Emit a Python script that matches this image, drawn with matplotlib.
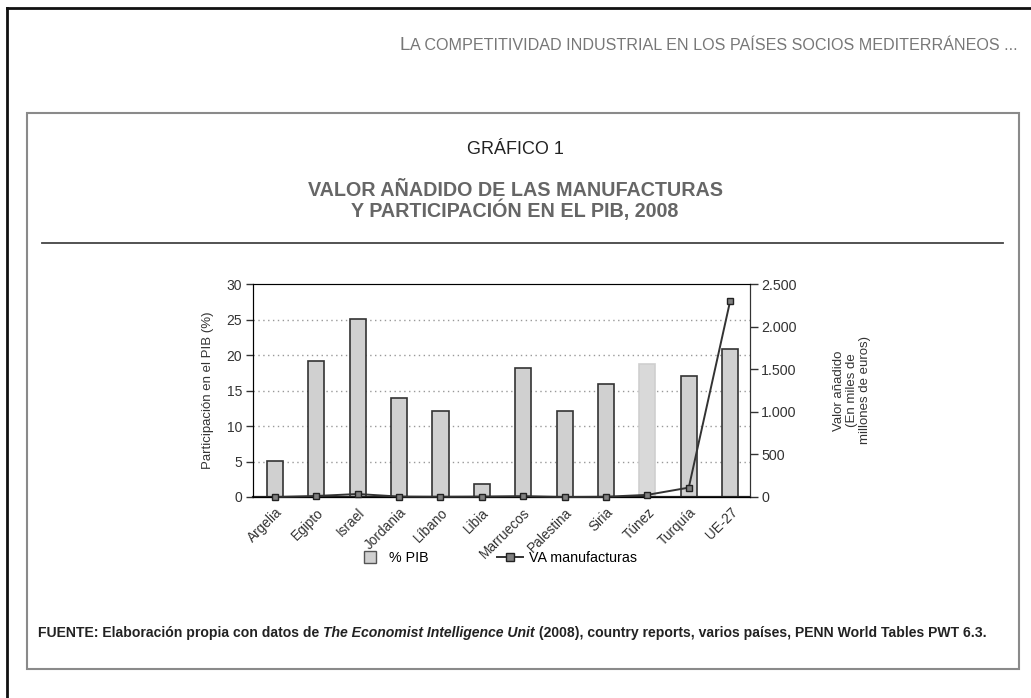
import matplotlib
matplotlib.use('Agg')
import matplotlib.pyplot as plt
from matplotlib.lines import Line2D
import numpy as np

plt.rcParams['font.family'] = ['Liberation Sans', 'DejaVu Sans']

# datos
paises = ['Argelia', 'Egipto', 'Israel', 'Jordania', 'Líbano', 'Libia', 'Marruecos',
          'Palestina', 'Siria', 'Túnez', 'Turquía', 'UE-27']
pib = [5.1, 19.2, 25.1, 14.0, 12.1, 1.9, 18.2, 12.1, 15.9, 18.8, 17.1, 20.9]
va_manuf = [0, 12, 35, 5, 3, 5, 10, 0, 3, 25, 110, 2300]
yticks_izq = [0, 5, 10, 15, 20, 25, 30]
yticks_der = [0, 500, 1000, 1500, 2000, 2500]
yticks_der_txt = ['0', '500', '1.000', '1.500', '2.000', '2.500']

W, H = 1031, 698
fig = plt.figure(figsize=(W / 100, H / 100), dpi=100)
renderer = fig.canvas.get_renderer()


def texto_seguido(partes, x0, y, align='left', **kw):
    # escribe trozos de texto uno tras otro (estilos o tamaños distintos)
    objs = []
    xpos = x0
    for txt, extra in partes:
        opts = dict(kw)
        opts.update(extra)
        t = fig.text(xpos / W, 1 - y / H, txt, ha='left', va='baseline', **opts)
        objs.append(t)
        xpos += t.get_window_extent(renderer).width
    if align == 'right':
        desplaz = xpos - x0
        for t in objs:
            px, py = t.get_position()
            t.set_x(px - desplaz / W)


# marco de la página y del gráfico
fig.add_artist(Line2D([7 / W, 7 / W], [0, 1 - 8 / H], color='#111', lw=2))
fig.add_artist(Line2D([7 / W, 1], [1 - 8 / H, 1 - 8 / H], color='#111', lw=2))
fig.add_artist(plt.Rectangle((27 / W, 1 - 669 / H), (1019 - 27) / W, (669 - 113) / H,
                             fill=False, ec='#8a8a8a', lw=1.5, transform=fig.transFigure))
fig.add_artist(Line2D([42 / W, 1003 / W], [1 - 243 / H, 1 - 243 / H], color='#444', lw=1.3))

# cabecera en versalitas
texto_seguido([('L', {'fontsize': 13.5}),
               ('A COMPETITIVIDAD INDUSTRIAL EN LOS PAÍSES SOCIOS MEDITERRÁNEOS ...', {'fontsize': 11.6})],
              1018, 50, align='right', color='#777')
fig.text(515 / W, 1 - 150 / H, 'GRÁFICO 1', ha='center', va='center', fontsize=13, color='#222')
fig.text(515 / W, 1 - 201 / H, 'VALOR AÑADIDO DE LAS MANUFACTURAS\nY PARTICIPACIÓN EN EL PIB, 2008',
         ha='center', va='center', fontsize=14.2, fontweight='bold', color='#666', linespacing=1.0)

# ejes
ax = fig.add_axes([253 / W, 1 - 497 / H, (750 - 253) / W, (497 - 284) / H])
x = np.arange(len(paises))
colores = ['#d0d0d0'] * len(paises)
bordes = ['#333333'] * len(paises)
colores[9] = '#d9d9d9'
bordes[9] = '#cfcfcf'
ax.bar(x, pib, width=0.39, color=colores, edgecolor=bordes, linewidth=1.2, zorder=2)
ax.set_ylim(0, 30)
ax.set_xlim(-0.53, 11.48)
ax.set_yticks(yticks_izq)
for v in yticks_izq[1:-1]:
    ax.axhline(v, color='#999', lw=1, ls=(0, (1, 2.5)), zorder=1)
ax.set_xticks(x)
ax.set_xticklabels(paises, rotation=45, ha='right', rotation_mode='anchor', fontsize=9.8, color='#333')
ax.tick_params(axis='x', length=0, pad=6)
ax.tick_params(axis='y', length=5, width=1, labelsize=10, colors='#333', pad=3)
ax.set_ylabel('Participación en el PIB (%)', fontsize=9.5, color='#333', labelpad=9)
for s in ['left', 'right']:
    ax.spines[s].set_color('#333')
ax.spines['top'].set_color('#666')
ax.spines['bottom'].set_color('#222')
ax.spines['bottom'].set_linewidth(1.6)

ax2 = ax.twinx()
ax2.plot(x, va_manuf, color='#333', lw=1.4, marker='s', markersize=5,
         markerfacecolor='#808080', markeredgecolor='#222', markeredgewidth=1, clip_on=False, zorder=3)
ax2.set_ylim(0, 2500)
ax2.set_yticks(yticks_der)
ax2.set_yticklabels(yticks_der_txt)
ax2.tick_params(axis='y', length=6, width=1, labelsize=10.3, colors='#333', pad=2)
ax2.spines['right'].set_color('#333')
ax2.set_ylabel('Valor añadido\n(En miles de\nmillones de euros)', fontsize=9.5, color='#333',
               labelpad=26, linespacing=1.15)

# leyenda
handles = [Line2D([], [], ls='none', marker='s', markersize=9, markerfacecolor='#d0d0d0',
                  markeredgecolor='#555', markeredgewidth=1, label='% PIB'),
           Line2D([], [], color='#333', lw=1.4, marker='s', markersize=6,
                  markerfacecolor='#808080', markeredgecolor='#222', label='VA manufacturas')]
fig.legend(handles=handles, loc='center', bbox_to_anchor=(497 / W, 1 - 558 / H), ncol=2,
           frameon=False, fontsize=10.3, handlelength=1.8, columnspacing=4.8, handletextpad=0.4)

# fuente, con partes en cursiva
texto_seguido([('FUENTE: Elaboración propia con datos de ', {}),
               ('The Economist Intelligence Unit', {'style': 'italic'}),
               (' (2008), country reports, varios países, PENN World Tables PWT 6.3.', {})],
              38, 637, fontsize=10.05, fontweight='bold', color='#222')

fig.savefig('out.png', dpi=100)
